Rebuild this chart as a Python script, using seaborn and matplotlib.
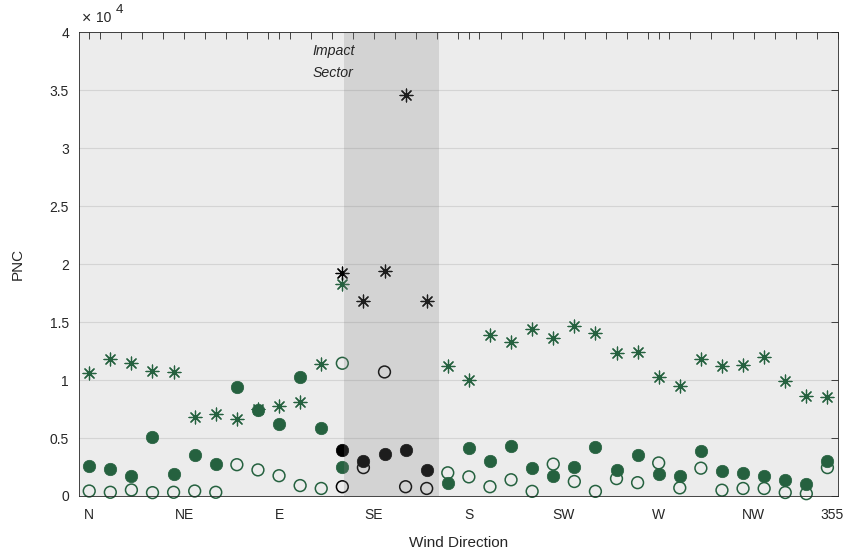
import numpy as np
import pandas as pd
import matplotlib
matplotlib.use("Agg")
import matplotlib.pyplot as plt
import matplotlib.transforms as mtransforms
import seaborn as sns

# Wind-direction bins (degrees) outside / inside the impact sector
dir_all = [0, 10, 20, 30, 40, 50, 60, 70, 80, 90, 100, 110, 120,
           170, 180, 190, 200, 210, 220, 230, 240, 250, 260, 270,
           280, 290, 300, 310, 320, 330, 340, 350]
dir_impact = [120, 130, 140, 150, 160]

# Particle number concentration statistics, all data
pnc_high = [10600, 11800, 11500, 10800, 10700, 6800, 7100, 6600, 7500, 7800,
            8100, 11400, 18300, 11200, 10000, 13900, 13300, 14400, 13600, 14700,
            14100, 12300, 12400, 10300, 9500, 11800, 11200, 11300, 12000, 9900,
            8600, 8500]
pnc_mid = [2600, 2300, 1700, 5100, 1900, 3500, 2800, 9400, 7400, 6200,
           10300, 5900, 2500, 1150, 4100, 3000, 4300, 2400, 1750, 2500,
           4200, 2250, 3500, 1900, 1750, 3850, 2150, 2000, 1700, 1400,
           1050, 3000]
pnc_low = [430, 320, 520, 290, 320, 430, 320, 2700, 2250, 1750,
           900, 650, 11450, 2000, 1650, 800, 1400, 400, 2750, 1250,
           400, 1500, 1150, 2850, 700, 2400, 500, 650, 650, 300,
           200, 2450]

# Same statistics for the impact-sector subset
imp_high = [19200, 16800, 19400, 34600, 16800]
imp_mid = [4000, 3000, 3600, 4000, 2250]
imp_low = [800, 2450, 10700, 800, 650]

tick_pos = [0, 45, 90, 135, 180, 225, 270, 315, 355]
tick_lab = ["N", "NE", "E", "SE", "S", "SW", "W", "NW", "355"]
ytick_pos = [0, 5000, 10000, 15000, 20000, 25000, 30000, 35000, 40000]
ytick_lab = ["0", "0.5", "1", "1.5", "2", "2.5", "3", "3.5", "4"]

GREEN = "#25613f"
BLACK = "#000000"
TEXT = "#262626"

sns.set_theme(style="white")
plt.rcParams["font.family"] = ["Liberation Sans", "DejaVu Sans"]

df_all = pd.DataFrame({"dir": dir_all, "high": pnc_high, "mid": pnc_mid, "low": pnc_low})
df_imp = pd.DataFrame({"dir": dir_impact, "high": imp_high, "mid": imp_mid, "low": imp_low})

fig = plt.figure(figsize=(8.46, 5.54), dpi=100)
ax = fig.add_axes([0.093, 0.1047, 0.8975, 0.8370])
ax.set_facecolor("#ececec")

star = (8, 2, 0)
for df, col in ((df_all, GREEN), (df_imp, BLACK)):
    sns.scatterplot(data=df, x="dir", y="high", marker=star, s=85, color=col,
                    linewidth=0.9, ax=ax, clip_on=False, zorder=2)
    sns.scatterplot(data=df, x="dir", y="mid", marker="o", s=80, color=col,
                    edgecolor=col, linewidth=0.5, ax=ax, clip_on=False, zorder=2)
    sns.scatterplot(data=df, x="dir", y="low", marker="o", s=72, color=col,
                    facecolor="none", edgecolor=col, linewidth=1.1, ax=ax,
                    clip_on=False, zorder=2)

# Impact sector shading
ax.axvspan(121, 166, color="#808080", alpha=0.23, lw=0, zorder=2.2)
ax.text(106, 38400, "Impact", style="italic", fontsize=10.2, va="center", color=TEXT)
ax.text(106, 36500, "Sector", style="italic", fontsize=10.2, va="center", color=TEXT)

ax.set_xlim(-5, 355)
ax.set_ylim(0, 40000)
ax.set_xticks(tick_pos)
ax.set_xticklabels(tick_lab)
ax.set_xticks(np.arange(5, 350, 10), minor=True)
ax.set_yticks(ytick_pos)
ax.set_yticklabels(ytick_lab)

ax.tick_params(which="both", direction="in", top=True, right=True, length=5,
               width=0.6, color=TEXT, labelcolor=TEXT, labelsize=10)
ax.tick_params(axis="x", pad=9)
ax.tick_params(axis="y", pad=7)

# last direction label sits slightly inside the right edge
last = ax.get_xticklabels()[-1]
last.set_transform(last.get_transform() +
                   mtransforms.ScaledTranslation(-6 / 100, 0, fig.dpi_scale_trans))

ax.yaxis.grid(True, color="k", alpha=0.11, lw=0.8)
ax.xaxis.grid(False)
ax.set_axisbelow(True)
for sp in ax.spines.values():
    sp.set_color(TEXT)
    sp.set_linewidth(0.6)
    sp.set_visible(True)

ax.set_xlabel("Wind Direction", fontsize=11, color=TEXT, labelpad=10)
ax.set_ylabel("PNC", fontsize=11, color=TEXT, labelpad=18)

fig.text(82 / 846, 1 - 18 / 554, "\u00d7", fontsize=11.5, va="center", color=TEXT)
fig.text(96 / 846, 1 - 18 / 554, "10", fontsize=10, va="center", color=TEXT)
fig.text(116 / 846, 1 - 10 / 554, "4", fontsize=9.7, va="center", color=TEXT)

fig.savefig("out.png", dpi=100, facecolor="white")
